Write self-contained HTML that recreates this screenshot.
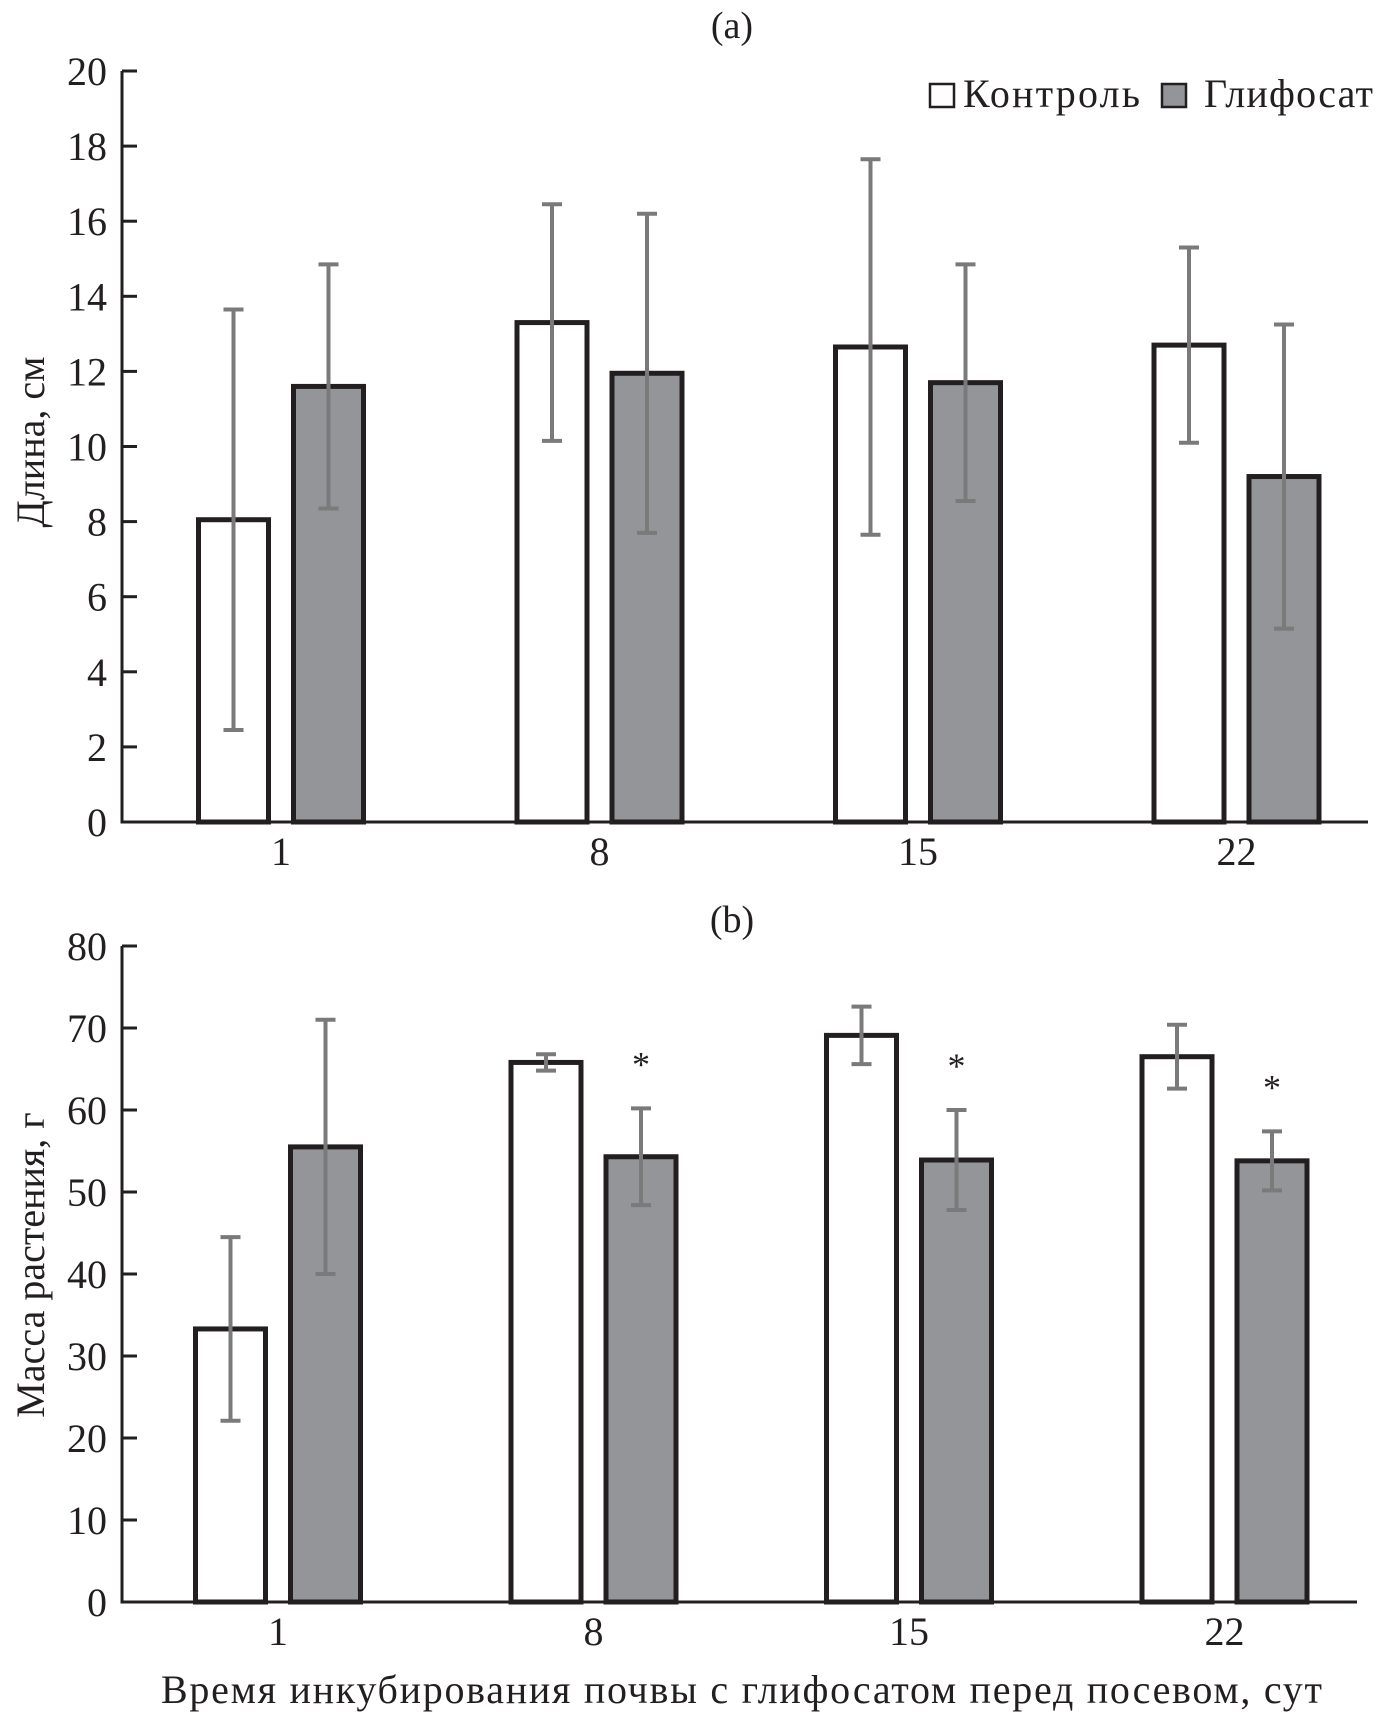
<!DOCTYPE html>
<html><head><meta charset="utf-8"><style>
html,body{margin:0;padding:0;background:#fff}
svg{display:block}
text{font-family:"Liberation Serif","DejaVu Serif",serif;fill:#231f20}
</style></head><body>
<svg id="chart" width="1395" height="1720" viewBox="0 0 1395 1720" xmlns="http://www.w3.org/2000/svg">
<text x="732" y="38" font-size="38" text-anchor="middle">(a)</text>
<text x="732" y="932" font-size="38" text-anchor="middle">(b)</text>
<g>
<rect x="930" y="84" width="24" height="23" fill="#fff" stroke="#231f20" stroke-width="2.5"/>
<text x="963" y="107" font-size="40" textLength="177">Контроль</text>
<rect x="1162" y="84" width="24" height="23" fill="#939598" stroke="#231f20" stroke-width="2.5"/>
<text x="1204" y="107" font-size="40" textLength="169">Глифосат</text>
</g>
<text transform="translate(44,442) rotate(-90)" font-size="40" text-anchor="middle">Длина, см</text>
<text transform="translate(44,1265) rotate(-90)" font-size="40" text-anchor="middle">Масса растения, г</text>
<text x="161" y="1703" font-size="40" textLength="1161">Время инкубирования почвы с глифосатом перед посевом, сут</text>
</svg>
<script>
const categories = ["1","8","15","22"];
const lengthControl = [8.05,13.3,12.65,12.7];
const lengthControlErr = [5.6,3.15,5.0,2.6];
const lengthGly = [11.6,11.95,11.7,9.2];
const lengthGlyErr = [3.25,4.25,3.15,4.05];
const massControl = [33.3,65.8,69.1,66.5];
const massControlErr = [11.2,1.0,3.5,3.9];
const massGly = [55.5,54.3,53.9,53.8];
const massGlyErr = [15.5,5.9,6.1,3.6];
const massStars = [false,true,true,true];
const lengthTicks = [0,2,4,6,8,10,12,14,16,18,20];
const massTicks = [0,10,20,30,40,50,60,70,80];

const NS="http://www.w3.org/2000/svg";
const svg=document.getElementById('chart');
function mk(tag,attrs){const e=document.createElementNS(NS,tag);for(const k in attrs)e.setAttribute(k,attrs[k]);svg.appendChild(e);return e;}

function panel(p){
  const y=v=>p.y0-(v-p.min)/(p.max-p.min)*(p.y0-p.y1);
  const x=i=>p.c0+p.step*i;
  for(let i=0;i<categories.length;i++){
    const series=[[p.c,p.ce,'#fff','control'],[p.g,p.ge,'#939598','glyphosate']];
    series.forEach((s,j)=>{
      const left=j===0?x(i)-85:x(i)+10;
      const r=mk('rect',{x:left+2.5,y:y(s[0][i]),width:70,height:p.y0-y(s[0][i]),fill:s[2],stroke:'#231f20','stroke-width':5});
      
      
      const cx=left+37.5;
      const e=mk('path',{d:`M${cx},${y(s[0][i]+s[1][i])}V${y(s[0][i]-s[1][i])}M${cx-10},${y(s[0][i]+s[1][i])}h20M${cx-10},${y(s[0][i]-s[1][i])}h20`,stroke:'#7a7a7a','stroke-width':4,fill:'none'});
      
      
      if(j===1&&p.stars&&p.stars[i]){
        const t=mk('text',{x:cx,y:y(s[0][i]+s[1][i])-32,'font-size':36,'text-anchor':'middle'});
        t.textContent='*';
        
        
      }
    });
    const lb=mk('text',{x:x(i),y:p.y0+43,'font-size':40,'text-anchor':'middle'});
    lb.textContent=categories[i];
    
    
  }
  const ax=mk('path',{d:`M${p.ax},${p.y1}V${p.y0}H${p.xend}`,stroke:'#231f20','stroke-width':3,fill:'none'});
  
  
  p.ticks.forEach(v=>{
    const tk=mk('line',{x1:p.ax,x2:p.ax+15,y1:y(v),y2:y(v),stroke:'#231f20','stroke-width':3});
    
    
    const t=mk('text',{x:p.ax-15,y:y(v)+14,'font-size':40,'text-anchor':'end'});
    t.textContent=v;
    
    
  });
}
panel({id:'a',min:0,max:20,y0:822,y1:71,ax:122,xend:1368,c0:281,step:318.5,c:lengthControl,ce:lengthControlErr,g:lengthGly,ge:lengthGlyErr,ticks:lengthTicks});
panel({id:'b',min:0,max:80,y0:1602,y1:946,ax:122,xend:1357,c0:278,step:315.5,c:massControl,ce:massControlErr,g:massGly,ge:massGlyErr,ticks:massTicks,stars:massStars});
</script>
</body></html>
